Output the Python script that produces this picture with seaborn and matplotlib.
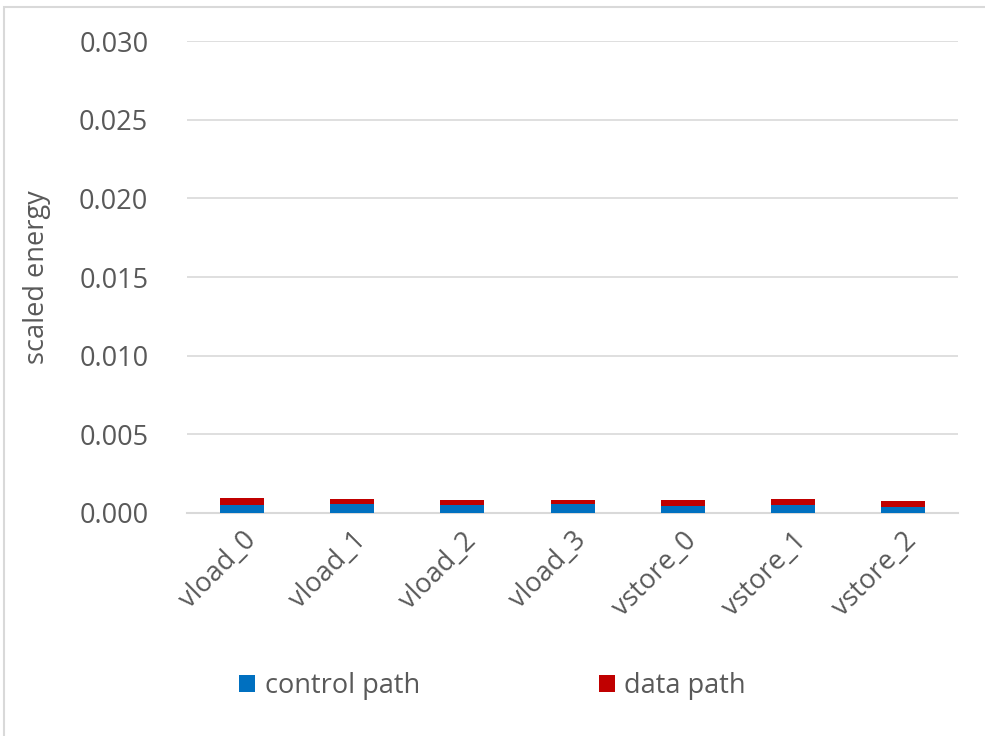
import matplotlib
matplotlib.use("Agg")
import matplotlib.pyplot as plt
from matplotlib.patches import Rectangle, Patch
import seaborn as sns
import pandas as pd

categories = ["vload_0", "vload_1", "vload_2", "vload_3", "vstore_0", "vstore_1", "vstore_2"]
control_path = [0.00051, 0.00055, 0.00051, 0.00055, 0.00047, 0.00049, 0.00038]
data_path = [0.00043, 0.00032, 0.00032, 0.00028, 0.00034, 0.00038, 0.00038]
y_ticks = [0.000, 0.005, 0.010, 0.015, 0.020, 0.025, 0.030]

BLUE = "#0070c0"
RED = "#c00000"
TEXT = "#595959"
GRID = "#d9d9d9"
FS = 19.5

sns.set_theme(style="white")
plt.rcParams["font.family"] = ["Open Sans", "DejaVu Sans"]

df = pd.DataFrame({
    "op": categories,
    "control": control_path,
    "total": [c + d for c, d in zip(control_path, data_path)],
})

fig = plt.figure(figsize=(9.85, 7.36), dpi=100)
ax = fig.add_axes([0.19, 0.303, 0.7826, 0.641])

# stacked bars: full height in red, control portion drawn over it in blue
sns.barplot(data=df, x="op", y="total", color=RED, width=0.4, saturation=1,
            linewidth=0, edgecolor="none", ax=ax, zorder=3)
sns.barplot(data=df, x="op", y="control", color=BLUE, width=0.4, saturation=1,
            linewidth=0, edgecolor="none", ax=ax, zorder=4)

ax.set_ylim(0, 0.030)
ax.set_xlim(-0.5, len(categories) - 0.5)
ax.set_yticks(y_ticks)
ax.set_yticklabels([f"{v:.3f}" for v in y_ticks])
ax.yaxis.grid(True, color=GRID, linewidth=1.2, zorder=0)
ax.set_axisbelow(True)

for side in ["top", "right", "left"]:
    ax.spines[side].set_visible(False)
ax.spines["bottom"].set_color(GRID)
ax.spines["bottom"].set_linewidth(1.5)

ax.tick_params(axis="y", length=0, labelsize=FS, labelcolor=TEXT, pad=28)
ax.tick_params(axis="x", which="major", length=0, labelsize=FS, labelcolor=TEXT, pad=10)
ax.set_xticks([i - 0.5 for i in range(len(categories) + 1)], minor=True)
ax.tick_params(axis="x", which="minor", length=10, width=1.5, color=GRID)
plt.setp(ax.get_xticklabels(), rotation=45, ha="right", rotation_mode="anchor")

ax.set_xlabel("")
ax.set_ylabel("scaled energy", fontsize=FS, color=TEXT, labelpad=20)

handles = [Patch(facecolor=BLUE, edgecolor="none", label="control path"),
           Patch(facecolor=RED, edgecolor="none", label="data path")]
fig.legend(handles=handles, loc="center", bbox_to_anchor=(0.5, 0.068), ncol=2,
           frameon=False, fontsize=FS, labelcolor=TEXT, handlelength=0.6,
           handleheight=0.6, handletextpad=0.35, columnspacing=6.6)

fig.patches.append(Rectangle((0.004, -0.01), 1.0, 1.0 - 0.0095 + 0.01,
                             transform=fig.transFigure, fill=False,
                             edgecolor=GRID, linewidth=1.5))

fig.savefig("out.png", dpi=100, facecolor="white")
